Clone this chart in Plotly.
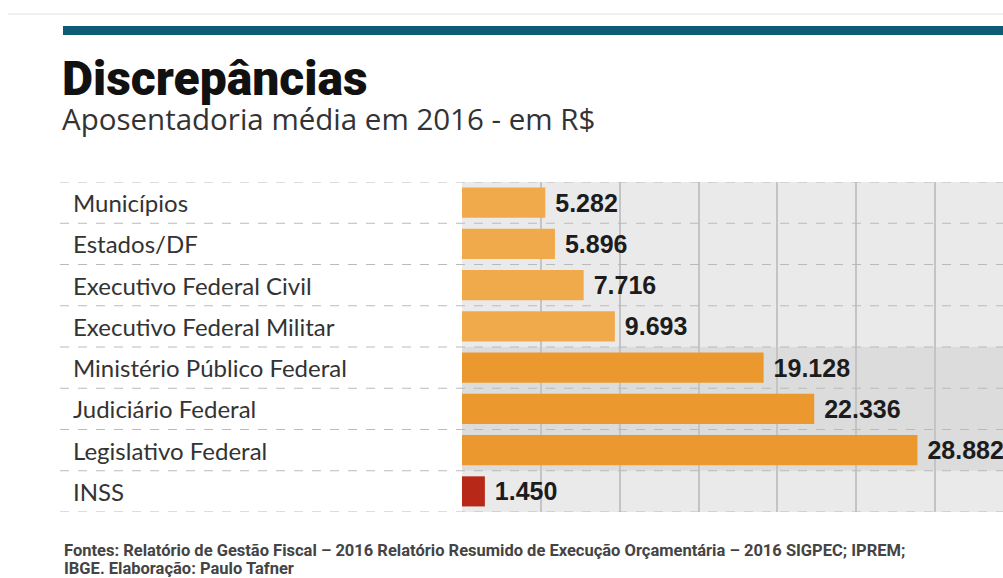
import plotly.graph_objects as go

categories = ["Municípios", "Estados/DF", "Executivo Federal Civil", "Executivo Federal Militar",
              "Ministério Público Federal", "Judiciário Federal", "Legislativo Federal", "INSS"]
values = [5282, 5896, 7716, 9693, 19128, 22336, 28882, 1450]
bar_colors = ["#f0aa4c", "#f0aa4c", "#f0aa4c", "#f0aa4c", "#eb992f", "#eb992f", "#eb992f", "#b72818"]

title = "Discrepâncias"
subtitle = "Aposentadoria média em 2016 - em R$"
source_line1 = "Fontes: Relatório de Gestão Fiscal – 2016 Relatório Resumido de Execução Orçamentária – 2016 SIGPEC; IPREM;"
source_line2 = "IBGE. Elaboração: Paulo Tafner"

W, H = 1003, 578
def px(x):
    return x / W
def py(y):
    return 1 - y / H

fig = go.Figure()
fig.add_trace(go.Bar(
    x=values, y=categories, orientation="h",
    marker=dict(color=bar_colors, line=dict(width=0)),
    width=0.73,
    texttemplate=" %{x:,.0f}", textposition="outside",
    textfont=dict(family="Liberation Sans", size=25, color="#1c1c1c", weight="bold"),
    cliponaxis=False, constraintext="none",
    hoverinfo="skip",
))

shapes = []
# darker band behind the three federal power rows
shapes.append(dict(type="rect", xref="paper", yref="y", x0=px(462), x1=1, y0=3.5, y1=6.5,
                   fillcolor="#dcdcdc", line=dict(width=0), layer="below"))
# dashed row separators
for i in range(len(categories) + 1):
    shapes.append(dict(type="line", xref="paper", yref="y", x0=px(60), x1=1,
                       y0=i - 0.5, y1=i - 0.5,
                       line=dict(color="#bababa", width=1, dash="dash"), layer="above"))
# header rule lines
shapes.append(dict(type="line", xref="paper", yref="paper", x0=px(8), x1=1, y0=py(14), y1=py(14),
                   line=dict(color="#d9e3dc", width=1)))
shapes.append(dict(type="rect", xref="paper", yref="paper", x0=px(63), x1=1, y0=py(35), y1=py(26),
                   fillcolor="#0e5b76", line=dict(width=0)))

annotations = []
for c in categories:
    annotations.append(dict(x=px(71), xref="paper", y=c, yref="y", text=c, showarrow=False,
                            xanchor="left", yanchor="middle",
                            font=dict(family="Lato", size=24, color="#333333")))
annotations.append(dict(x=px(60), xref="paper", y=py(79), yref="paper", text=title, showarrow=False,
                        xanchor="left", yanchor="middle",
                        font=dict(family="Roboto", size=48, color="#111111", weight=900)))
annotations.append(dict(x=px(60), xref="paper", y=py(118), yref="paper", text=subtitle, showarrow=False,
                        xanchor="left", yanchor="middle",
                        font=dict(family="Open Sans", size=29.5, color="#333333")))
annotations.append(dict(x=px(62), xref="paper", y=py(550), yref="paper", text=source_line1, showarrow=False,
                        xanchor="left", yanchor="middle",
                        font=dict(family="Roboto", size=16.5, color="#444444", weight="bold")))
annotations.append(dict(x=px(62), xref="paper", y=py(568), yref="paper", text=source_line2, showarrow=False,
                        xanchor="left", yanchor="middle",
                        font=dict(family="Roboto", size=16.5, color="#444444", weight="bold")))

fig.update_layout(
    width=W, height=H,
    margin=dict(l=0, r=0, t=0, b=0),
    paper_bgcolor="white",
    plot_bgcolor="#eaeaea",
    separators=",.",
    showlegend=False,
    shapes=shapes,
    annotations=annotations,
    xaxis=dict(domain=[px(462), 1], range=[0, 34306], showgrid=True, dtick=5000, tick0=0,
               gridcolor="#c4c4c4", gridwidth=1.5, zeroline=False, showticklabels=False,
               showline=False, ticks=""),
    yaxis=dict(domain=[py(512), py(182)], categoryorder="array", categoryarray=categories,
               range=[7.5, -0.5], showgrid=False, zeroline=False, showticklabels=False,
               showline=False, ticks=""),
)

fig.write_html("out.html", config={"displayModeBar": False},
               post_script="document.body.style.margin='0';document.body.style.overflow='hidden';")
